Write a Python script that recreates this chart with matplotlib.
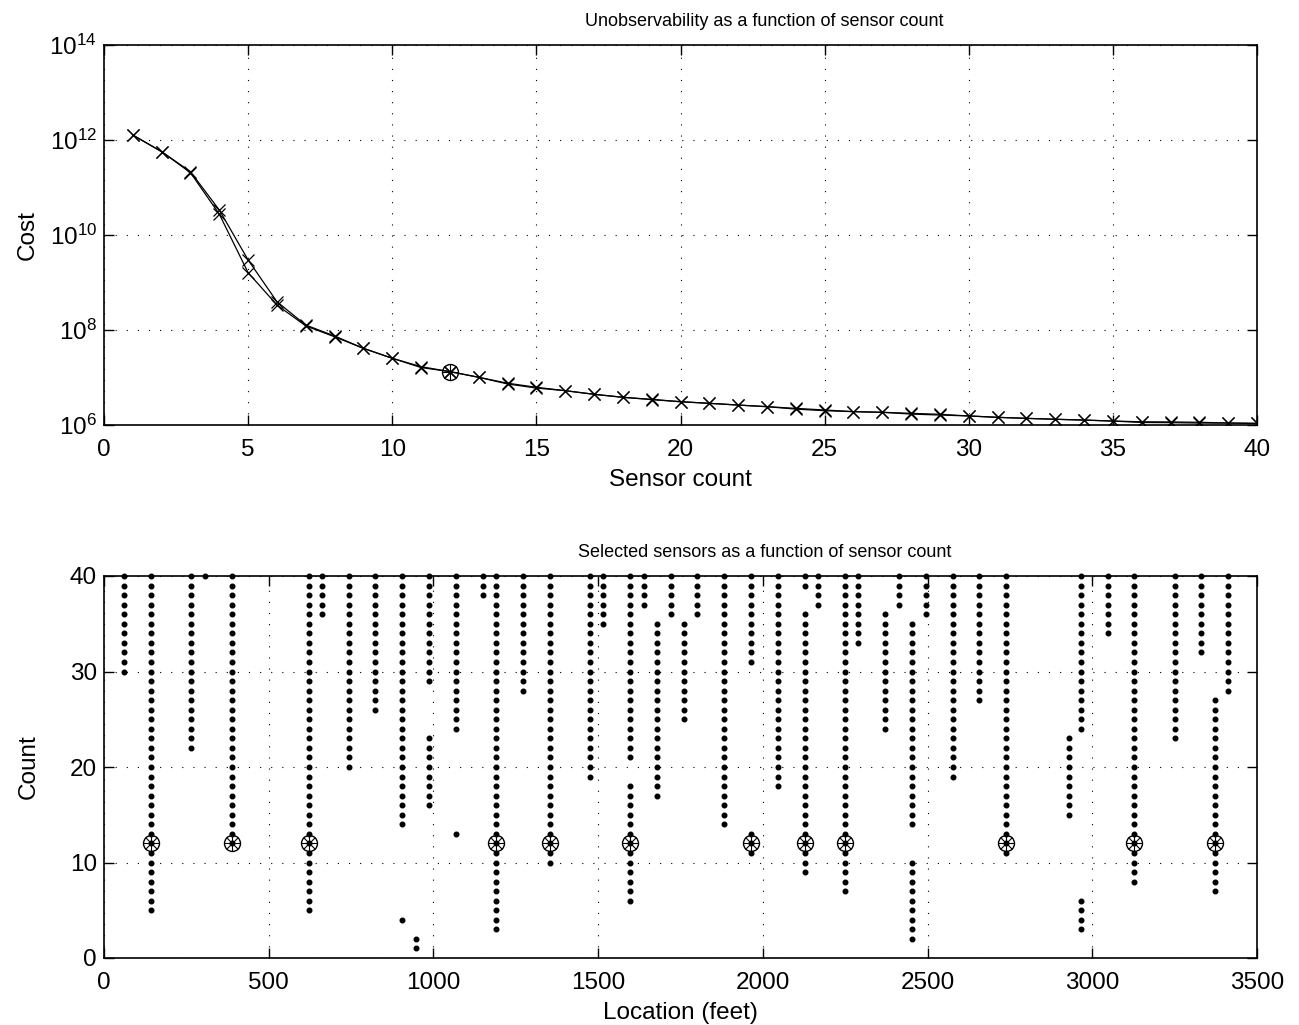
import matplotlib
matplotlib.use("Agg")
import matplotlib.pyplot as plt
import numpy as np

plt.rcParams['font.family'] = ['Liberation Sans', 'DejaVu Sans']
plt.rcParams['mathtext.fontset'] = 'custom'
plt.rcParams['mathtext.rm'] = 'Liberation Sans'

# ---------------- data: top panel ----------------
sensor_count = list(range(1, 41))
cost_a = [1.27e12, 5.68e11, 2.15e11, 3.36e10, 2.98e9, 3.94e8, 1.27e8, 7.48e7, 4.11e7, 2.54e7,
          1.69e7, 1.33e7, 1.01e7, 7.59e6, 6.22e6, 5.28e6, 4.43e6, 3.83e6, 3.47e6, 3.09e6,
          2.86e6, 2.63e6, 2.43e6, 2.24e6, 2.07e6, 1.91e6, 1.85e6, 1.76e6, 1.68e6, 1.55e6,
          1.45e6, 1.38e6, 1.32e6, 1.27e6, 1.21e6, 1.17e6, 1.16e6, 1.14e6, 1.10e6, 1.08e6]
cost_b = [1.27e12, 5.68e11, 2.05e11, 2.75e10, 1.61e9, 3.36e8, 1.22e8, 7.2e7, 4.11e7, 2.54e7,
          1.62e7, 1.33e7, 1.01e7, 7.3e6, 6.0e6, 5.28e6, 4.43e6, 3.83e6, 3.42e6, 3.09e6,
          2.86e6, 2.63e6, 2.43e6, 2.16e6, 2.0e6, 1.91e6, 1.85e6, 1.70e6, 1.62e6, 1.55e6,
          1.45e6, 1.38e6, 1.32e6, 1.27e6, 1.21e6, 1.13e6, 1.12e6, 1.10e6, 1.10e6, 1.08e6]
highlight_count = 12
highlight_cost = 1.33e7

# ---------------- data: bottom panel ----------------
locations = [61, 143, 264, 307, 389, 621, 662, 743, 823, 906, 946, 988, 1069, 1150, 1191,
             1272, 1354, 1475, 1516, 1598, 1639, 1679, 1720, 1761, 1801, 1882, 1964, 2045,
             2127, 2168, 2249, 2290, 2372, 2412, 2454, 2494, 2576, 2657, 2738, 2928, 2966,
             3047, 3128, 3250, 3331, 3373, 3413]
# count ranges (inclusive) during which each location is selected
count_ranges = [
    [(30, 40)], [(5, 40)], [(22, 40)], [(40, 40)], [(12, 40)], [(5, 40)], [(36, 40)],
    [(20, 40)], [(26, 40)], [(4, 4), (14, 40)], [(1, 2)], [(16, 23), (29, 40)],
    [(13, 13), (24, 40)], [(38, 40)], [(3, 40)], [(28, 40)], [(10, 40)], [(19, 40)],
    [(35, 40)], [(6, 18), (21, 40)], [(37, 40)], [(17, 35)], [(36, 40)], [(25, 35)],
    [(36, 40)], [(14, 40)], [(11, 13), (31, 40)], [(18, 40)], [(9, 36), (39, 40)],
    [(37, 40)], [(7, 40)], [(33, 40)], [(24, 36)], [(37, 40)], [(2, 10), (14, 35)],
    [(36, 40)], [(19, 40)], [(27, 40)], [(11, 40)], [(15, 23)], [(3, 6), (24, 40)],
    [(34, 40)], [(8, 40)], [(23, 40)], [(32, 40)], [(7, 27)], [(28, 40)],
]

fig = plt.figure(figsize=(12.99, 10.25), dpi=100)
ax1 = fig.add_axes([104 / 1299, 1 - 425 / 1025, 1153 / 1299, 380 / 1025])
ax2 = fig.add_axes([104 / 1299, 1 - 958 / 1025, 1153 / 1299, 382 / 1025])

FS = 17.5
TFS = 13
grid_kw = dict(color='black', linestyle=(0, (1, 9)), linewidth=0.8)

def style(ax):
    ax.tick_params(direction='in', which='both', top=True, right=True, length=7,
                   width=1.0, labelsize=FS)
    ax.tick_params(axis='x', pad=10)
    ax.tick_params(axis='y', pad=5)
    for s in ax.spines.values():
        s.set_linewidth(1.2)
    ax.grid(True, **grid_kw)
    ax.set_axisbelow(True)

def asterisk_circle(ax, x, y, fill='none'):
    ax.plot(x, y, linestyle='none', marker='o', markersize=11.5,
            markerfacecolor=fill, markeredgecolor='black', markeredgewidth=1.0)
    ax.plot(x, y, linestyle='none', marker='+', markersize=11.5,
            markeredgecolor='black', markeredgewidth=0.8)
    ax.plot(x, y, linestyle='none', marker='x', markersize=8.1,
            markeredgecolor='black', markeredgewidth=0.8)

# top panel
ax1.plot(sensor_count, cost_a, color='black', linewidth=0.9, marker='x', markersize=9,
         markeredgewidth=0.9)
ax1.plot(sensor_count, cost_b, color='black', linewidth=0.9, marker='x', markersize=9,
         markeredgewidth=0.9)
asterisk_circle(ax1, [highlight_count], [highlight_cost])
ax1.set_yscale('log')
ax1.set_xlim(0, 40)
ax1.set_ylim(1e6, 1e14)
ax1.set_xticks(range(0, 41, 5))
ax1.set_yticks([1e6, 1e8, 1e10, 1e12, 1e14])
ax1.yaxis.set_minor_locator(matplotlib.ticker.NullLocator())
style(ax1)
ax1.set_title('Unobservability as a function of sensor count', fontsize=TFS, pad=14,
              x=0.573)
ax1.set_xlabel('Sensor count', fontsize=FS, labelpad=6)
ax1.set_ylabel('Cost', fontsize=FS, labelpad=8)

# bottom panel
for loc, ranges in zip(locations, count_ranges):
    counts = []
    for lo, hi in ranges:
        counts.extend(range(lo, hi + 1))
    ax2.plot([loc] * len(counts), counts, linestyle='none', marker='o', markersize=3.3,
             color='black', clip_on=False)
    if any(lo <= highlight_count <= hi for lo, hi in ranges):
        asterisk_circle(ax2, [loc], [highlight_count])
ax2.set_xlim(0, 3500)
ax2.set_ylim(0, 40)
ax2.set_xticks(range(0, 3501, 500))
ax2.set_yticks(range(0, 41, 10))
style(ax2)
ax2.set_title('Selected sensors as a function of sensor count', fontsize=TFS, pad=14,
              x=0.573)
ax2.set_xlabel('Location (feet)', fontsize=FS, labelpad=6)
ax2.set_ylabel('Count', fontsize=FS, labelpad=22)

fig.savefig('out.png', dpi=100)
